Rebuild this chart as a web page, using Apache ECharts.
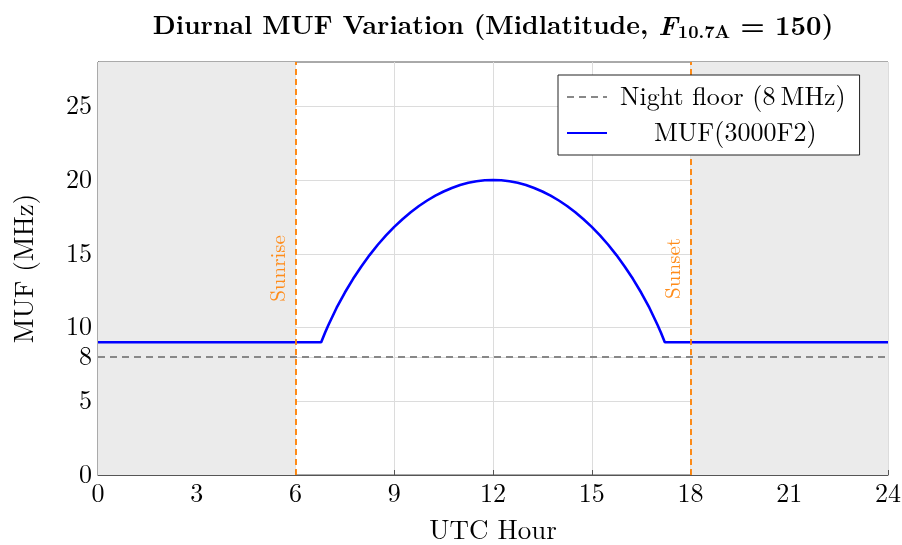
<!DOCTYPE html>
<html><head><meta charset="utf-8">
<script src="https://cdn.jsdelivr.net/npm/echarts@6/dist/echarts.min.js"></script>
<style>html,body{margin:0;padding:0;background:#fff}#c{width:902px;height:545px}</style>
</head><body><div id="c"></div>
<script>
const hours = [0, 6.78, 6.9, 7, 7.25, 7.5, 7.75, 8, 8.25, 8.5, 8.75, 9, 9.25, 9.5, 9.75, 10, 10.25, 10.5, 10.75, 11, 11.25, 11.5, 11.75, 12,
  12.25, 12.5, 12.75, 13, 13.25, 13.5, 13.75, 14, 14.25, 14.5, 14.75, 15, 15.25, 15.5, 15.75, 16, 16.25, 16.5, 16.75, 17, 17.1, 17.22, 24];
const muf = [9, 9, 9.66, 10.17, 11.34, 12.37, 13.30, 14.14, 14.91, 15.61, 16.24, 16.82, 17.34, 17.81, 18.24, 18.61, 18.94, 19.22, 19.46, 19.66, 19.81, 19.91, 19.98, 20,
  19.98, 19.91, 19.81, 19.66, 19.46, 19.22, 18.94, 18.61, 18.24, 17.81, 17.34, 16.82, 16.24, 15.61, 14.91, 14.14, 13.30, 12.37, 11.34, 10.17, 9.66, 9, 9];
const nightFloor = 8;
const sunrise = 6, sunset = 18;
const xTicks = [0, 3, 6, 9, 12, 15, 18, 21, 24];
const yTicks = [0, 5, 8, 10, 15, 20, 25];

const serif = '"Latin Modern Roman","CMU Serif","Liberation Serif","DejaVu Serif",serif';
const chart = echarts.init(document.getElementById('c'), null, {renderer: 'canvas'});
chart.setOption({
  animation: false,
  title: {
    text: '{b|Diurnal MUF Variation (Midlatitude, }{i|F}{s|10.7A}{r| = 150}{b|)}',
    left: 488, top: 7, textAlign: 'center',
    textStyle: {
      rich: {
        b: {fontFamily: serif, fontWeight: 'bold', fontSize: 26, color: '#000'},
        i: {fontFamily: serif, fontStyle: 'italic', fontSize: 27, color: '#000'},
        r: {fontFamily: serif, fontSize: 27, color: '#000'},
        s: {fontFamily: serif, fontWeight: 'bold', fontSize: 18, color: '#000', verticalAlign: 'bottom', padding: [11, 0, 0, 0]}
      }
    }
  },
  grid: {left: 98, right: 14, top: 62, bottom: 70, outerBoundsMode: 'none', containLabel: false,
    show: true, borderColor: '#555', borderWidth: 1, backgroundColor: 'transparent'},
  legend: {
    z: 20, zlevel: 0,
    left: 558, top: 75, orient: 'vertical', itemWidth: 40, itemHeight: 14, itemGap: 10,
    backgroundColor: '#fff', borderColor: '#222', borderWidth: 1, padding: [9, 14, 9, 8],
    textStyle: {fontFamily: serif, fontSize: 26, color: '#000'},
    data: [
      {name: 'Night floor (8\u2009MHz)', itemStyle: {opacity: 0}, textStyle: {padding: [0, 0, 0, 8]}},
      {name: 'MUF(3000F2)', itemStyle: {opacity: 0}, textStyle: {padding: [0, 0, 0, 42]}}
    ]
  },
  xAxis: {
    type: 'value', min: 0, max: 24, interval: 3,
    name: 'UTC Hour', nameLocation: 'middle', nameGap: 42,
    nameTextStyle: {fontFamily: serif, fontSize: 27, color: '#000'},
    axisLine: {show: true, lineStyle: {color: '#555'}},
    axisTick: {show: true, inside: true, length: 5, lineStyle: {color: '#555'}},
    axisLabel: {fontFamily: serif, fontSize: 26, color: '#000', margin: 6, customValues: xTicks},
    splitLine: {show: true, lineStyle: {color: '#dcdcdc', width: 1}}
  },
  yAxis: {
    type: 'value', min: 0, max: 28,
    name: 'MUF (MHz)', nameLocation: 'middle', nameGap: 60,
    nameTextStyle: {fontFamily: serif, fontSize: 27, color: '#000'},
    axisLine: {show: true, lineStyle: {color: '#555'}},
    axisTick: {show: true, inside: true, length: 5, lineStyle: {color: '#555'}, customValues: yTicks},
    axisLabel: {fontFamily: serif, fontSize: 26, color: '#000', margin: 6, customValues: yTicks},
    splitLine: {show: true, lineStyle: {color: '#dcdcdc', width: 1}}
  },
  series: [
    {
      name: 'shade', type: 'line', data: [], silent: true, z: 1,
      markArea: {
        silent: true,
        itemStyle: {color: '#ebebeb'},
        data: [[{xAxis: 0}, {xAxis: sunrise}], [{xAxis: sunset}, {xAxis: 24}]]
      },
      markLine: {
        silent: true, symbol: 'none',
        lineStyle: {color: '#ff8000', type: [6, 4], width: 1.8},
        label: {show: true, position: 'insideMiddleTop', distance: 6, fontFamily: serif, fontSize: 21, color: '#ff8c1a'},
        data: [
          {xAxis: sunrise, label: {formatter: 'Sunrise'}},
          {xAxis: sunset, label: {formatter: 'Sunset'}}
        ]
      }
    },
    {
      name: 'Night floor (8\u2009MHz)', type: 'line', z: 3,
      data: [[0, nightFloor], [24, nightFloor]],
      showSymbol: false, symbol: 'none',
      lineStyle: {color: '#888', type: [7, 5], width: 1.8},
      itemStyle: {color: '#888'}
    },
    {
      name: 'MUF(3000F2)', type: 'line', z: 4,
      data: hours.map((h, i) => [h, muf[i]]),
      showSymbol: false, symbol: 'none',
      lineStyle: {color: '#0000ff', width: 2.6},
      itemStyle: {color: '#0000ff'}
    }
  ]
});
</script></body></html>
